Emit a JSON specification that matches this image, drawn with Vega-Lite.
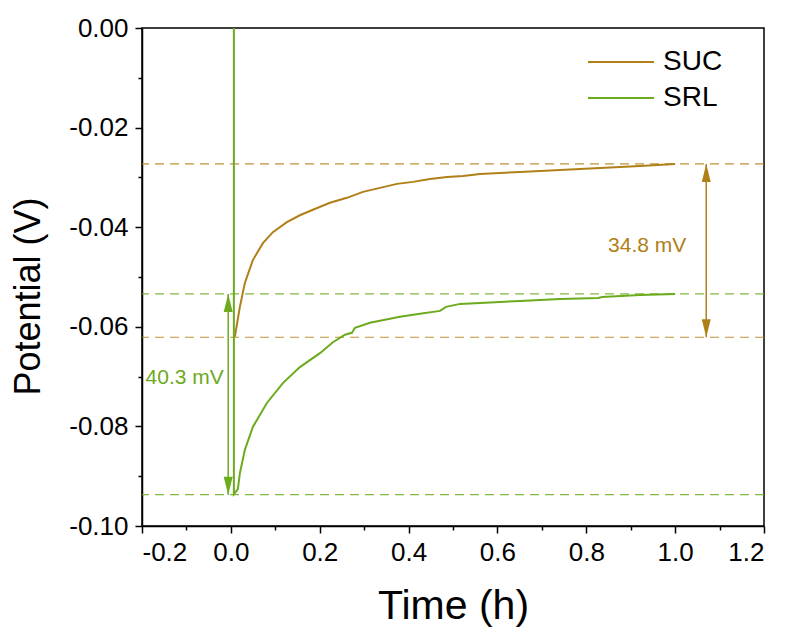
{
  "$schema": "https://vega.github.io/schema/vega-lite/v6.json",
  "width": 622,
  "height": 498,
  "autosize": {"type": "none"},
  "padding": {"left": 142, "top": 28, "right": 21, "bottom": 111},
  "background": "white",
  "config": {
    "view": {"stroke": "black", "strokeWidth": 1.5},
    "font": "Liberation Sans",
    "axis": {
      "grid": false,
      "domainColor": "black",
      "domainWidth": 1.5,
      "tickColor": "black",
      "tickWidth": 1.5,
      "labelColor": "black",
      "titleColor": "black",
      "titleFontWeight": "normal",
      "labelFont": "Liberation Sans",
      "titleFont": "Liberation Sans"
    }
  },
  "datasets": {
    "curves": [
      {"series": "SUC", "i": 1, "t": 0.009, "v": -0.0620},
      {"series": "SUC", "i": 2, "t": 0.0203, "v": -0.0560},
      {"series": "SUC", "i": 3, "t": 0.0315, "v": -0.0512},
      {"series": "SUC", "i": 4, "t": 0.0495, "v": -0.0466},
      {"series": "SUC", "i": 5, "t": 0.0721, "v": -0.0432},
      {"series": "SUC", "i": 6, "t": 0.0946, "v": -0.0410},
      {"series": "SUC", "i": 7, "t": 0.1261, "v": -0.0390},
      {"series": "SUC", "i": 8, "t": 0.1554, "v": -0.0376},
      {"series": "SUC", "i": 9, "t": 0.1847, "v": -0.0365},
      {"series": "SUC", "i": 10, "t": 0.2230, "v": -0.0351},
      {"series": "SUC", "i": 11, "t": 0.2613, "v": -0.0341},
      {"series": "SUC", "i": 12, "t": 0.2973, "v": -0.0329},
      {"series": "SUC", "i": 13, "t": 0.3356, "v": -0.0321},
      {"series": "SUC", "i": 14, "t": 0.3739, "v": -0.0313},
      {"series": "SUC", "i": 15, "t": 0.4099, "v": -0.0309},
      {"series": "SUC", "i": 16, "t": 0.4482, "v": -0.0303},
      {"series": "SUC", "i": 17, "t": 0.4865, "v": -0.0299},
      {"series": "SUC", "i": 18, "t": 0.5225, "v": -0.0297},
      {"series": "SUC", "i": 19, "t": 0.5608, "v": -0.0293},
      {"series": "SUC", "i": 20, "t": 0.6510, "v": -0.0289},
      {"series": "SUC", "i": 21, "t": 0.7410, "v": -0.0285},
      {"series": "SUC", "i": 22, "t": 0.8310, "v": -0.0281},
      {"series": "SUC", "i": 23, "t": 0.9210, "v": -0.0277},
      {"series": "SUC", "i": 24, "t": 1.0000, "v": -0.0273},
      {"series": "SRL", "i": 1, "t": 0.0068, "v": 0.0},
      {"series": "SRL", "i": 2, "t": 0.0068, "v": -0.0936},
      {"series": "SRL", "i": 3, "t": 0.0158, "v": -0.0926},
      {"series": "SRL", "i": 4, "t": 0.0203, "v": -0.0894},
      {"series": "SRL", "i": 5, "t": 0.0315, "v": -0.0847},
      {"series": "SRL", "i": 6, "t": 0.0495, "v": -0.0801},
      {"series": "SRL", "i": 7, "t": 0.0811, "v": -0.0753},
      {"series": "SRL", "i": 8, "t": 0.1171, "v": -0.0713},
      {"series": "SRL", "i": 9, "t": 0.1554, "v": -0.0681},
      {"series": "SRL", "i": 10, "t": 0.2005, "v": -0.0653},
      {"series": "SRL", "i": 11, "t": 0.2297, "v": -0.0631},
      {"series": "SRL", "i": 12, "t": 0.2568, "v": -0.0616},
      {"series": "SRL", "i": 13, "t": 0.2725, "v": -0.0612},
      {"series": "SRL", "i": 14, "t": 0.2793, "v": -0.0602},
      {"series": "SRL", "i": 15, "t": 0.3131, "v": -0.0592},
      {"series": "SRL", "i": 16, "t": 0.3806, "v": -0.0580},
      {"series": "SRL", "i": 17, "t": 0.4257, "v": -0.0574},
      {"series": "SRL", "i": 18, "t": 0.4707, "v": -0.0568},
      {"series": "SRL", "i": 19, "t": 0.4842, "v": -0.0560},
      {"series": "SRL", "i": 20, "t": 0.5158, "v": -0.0554},
      {"series": "SRL", "i": 21, "t": 0.5608, "v": -0.0552},
      {"series": "SRL", "i": 22, "t": 0.6509, "v": -0.0548},
      {"series": "SRL", "i": 23, "t": 0.7410, "v": -0.0544},
      {"series": "SRL", "i": 24, "t": 0.8266, "v": -0.0542},
      {"series": "SRL", "i": 25, "t": 0.8356, "v": -0.0540},
      {"series": "SRL", "i": 26, "t": 0.9212, "v": -0.0536},
      {"series": "SRL", "i": 27, "t": 1.0000, "v": -0.0534}
    ],
    "hlines": [
      {"series": "SUC", "v": -0.0273},
      {"series": "SUC", "v": -0.0621},
      {"series": "SRL", "v": -0.0534},
      {"series": "SRL", "v": -0.0937}
    ],
    "arrows": [
      {"series": "SUC", "t": 1.07, "v1": -0.0273, "v2": -0.0621},
      {"series": "SRL", "t": -0.006, "v1": -0.0534, "v2": -0.0937}
    ],
    "heads": [
      {"series": "SUC", "t": 1.07, "v": -0.0273, "dir": "up"},
      {"series": "SUC", "t": 1.07, "v": -0.0621, "dir": "down"},
      {"series": "SRL", "t": -0.006, "v": -0.0534, "dir": "up"},
      {"series": "SRL", "t": -0.006, "v": -0.0937, "dir": "down"}
    ],
    "labels": [
      {"series": "SUC", "t": 0.937, "v": -0.0437, "text": "34.8 mV"},
      {"series": "SRL", "t": -0.104, "v": -0.0703, "text": "40.3 mV"}
    ],
    "minor": [
      {"t": 0.5, "v": -0.05}
    ]
  },
  "layer": [
    {
      "data": {"name": "minor"},
      "mark": {"type": "point", "opacity": 0},
      "encoding": {
        "x": {"field": "t", "type": "quantitative",
          "scale": {"domain": [-0.2, 1.2], "nice": false, "zero": false},
          "axis": {"orient": "bottom", "values": [-0.1, 0.1, 0.3, 0.5, 0.7, 0.9, 1.1], "labels": false, "title": null, "tickSize": 4, "domain": false}},
        "y": {"field": "v", "type": "quantitative",
          "scale": {"domain": [-0.1, 0.0], "nice": false, "zero": false},
          "axis": {"orient": "left", "values": [-0.09, -0.07, -0.05, -0.03, -0.01], "labels": false, "title": null, "tickSize": 4, "domain": false}}
      }
    },
    {
      "data": {"name": "hlines"},
      "mark": {"type": "rule", "strokeDash": [9, 6], "strokeWidth": 1.2, "opacity": 0.85},
      "encoding": {
        "y": {"field": "v", "type": "quantitative", "axis": null},
        "color": {"field": "series", "type": "nominal", "legend": null,
          "scale": {"domain": ["SUC", "SRL"], "range": ["#B08018", "#6CAA1E"]}}
      }
    },
    {
      "data": {"name": "curves"},
      "mark": {"type": "line", "strokeWidth": 2},
      "encoding": {
        "x": {"field": "t", "type": "quantitative",
          "axis": {"orient": "bottom", "values": [-0.2, 0, 0.2, 0.4, 0.6, 0.8, 1.0, 1.2],
            "labelExpr": "(datum.value < -0.0001 ? '-' : '') + format(abs(datum.value), '.1f')",
            "title": "Time (h)", "titleFontSize": 41, "labelFontSize": 26, "tickSize": 7, "labelPadding": 6, "titlePadding": 21}},
        "y": {"field": "v", "type": "quantitative",
          "axis": {"orient": "left", "values": [0, -0.02, -0.04, -0.06, -0.08, -0.1],
            "labelExpr": "(datum.value < -0.0001 ? '-' : '') + format(abs(datum.value), '.2f')",
            "title": "Potential (V)", "titleFontSize": 36, "titleY": 268, "labelFontSize": 26, "tickSize": 7, "labelPadding": 7, "titlePadding": 21}},
        "color": {"field": "series", "type": "nominal",
          "scale": {"domain": ["SUC", "SRL"], "range": ["#B08018", "#6CAA1E"]},
          "legend": {"orient": "none", "legendX": 465, "legendY": 20, "title": null,
            "symbolType": "M-3,0L3,0", "symbolSize": 484, "symbolStrokeWidth": 2,
            "labelFontSize": 28, "labelColor": "black", "labelFont": "Liberation Sans", "rowPadding": 8, "labelOffset": 28}},
        "order": {"field": "i", "type": "quantitative"}
      }
    },
    {
      "data": {"name": "arrows"},
      "mark": {"type": "rule", "strokeWidth": 1.5},
      "encoding": {
        "x": {"field": "t", "type": "quantitative", "axis": null},
        "y": {"field": "v1", "type": "quantitative", "axis": null},
        "y2": {"field": "v2"},
        "color": {"field": "series", "type": "nominal", "legend": null}
      }
    },
    {
      "data": {"name": "heads"},
      "transform": [{"filter": "datum.dir == 'up'"}],
      "mark": {"type": "point", "filled": true, "opacity": 1, "shape": "M0,0L0.5,2L-0.5,2Z", "size": 324},
      "encoding": {
        "x": {"field": "t", "type": "quantitative", "axis": null},
        "y": {"field": "v", "type": "quantitative", "axis": null},
        "color": {"field": "series", "type": "nominal", "legend": null}
      }
    },
    {
      "data": {"name": "heads"},
      "transform": [{"filter": "datum.dir == 'down'"}],
      "mark": {"type": "point", "filled": true, "opacity": 1, "shape": "M0,0L0.5,-2L-0.5,-2Z", "size": 324},
      "encoding": {
        "x": {"field": "t", "type": "quantitative", "axis": null},
        "y": {"field": "v", "type": "quantitative", "axis": null},
        "color": {"field": "series", "type": "nominal", "legend": null}
      }
    },
    {
      "data": {"name": "labels"},
      "mark": {"type": "text", "fontSize": 21, "font": "Liberation Sans", "align": "center", "baseline": "middle"},
      "encoding": {
        "x": {"field": "t", "type": "quantitative", "axis": null},
        "y": {"field": "v", "type": "quantitative", "axis": null},
        "text": {"field": "text"},
        "color": {"field": "series", "type": "nominal", "legend": null}
      }
    }
  ],
  "resolve": {"axis": {"x": "independent", "y": "independent"}, "legend": {"color": "independent"}}
}
